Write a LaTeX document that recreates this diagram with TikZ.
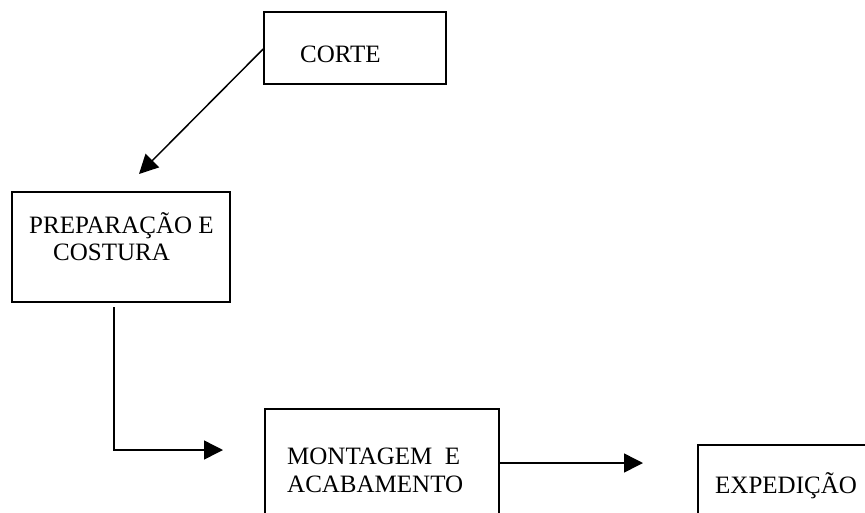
\documentclass[tikz,border=0pt]{standalone}
\usepackage{fontspec}
\setmainfont{Liberation Serif}
\usetikzlibrary{arrows.meta}

\begin{document}
\begin{tikzpicture}[
    x=1pt, y=-1pt,
    box/.style={draw, black, line width=1.6pt, rectangle, inner sep=0pt},
    lbl/.style={anchor=base west, inner sep=0pt, font=\fontsize{25}{27}\selectfont},
    flow/.style={black, line width=1.5pt, -{Triangle[length=19pt, width=19pt]}}
]

% Page
\useasboundingbox (0,0) rectangle (865,512);
\clip (0,0) rectangle (865,512);

% ============================================================
% Boxes
% ============================================================
\node[box, minimum width=182pt, minimum height=72pt]  (corte) at (355,48) {};
\node[box, minimum width=218pt, minimum height=110pt] (prep)  at (121,247) {};
\node[box, minimum width=234pt, minimum height=109pt] (mont)  at (382,463.5) {};
\node[box, minimum width=200pt, minimum height=100pt] (exped) at (798,495) {};

% Texts
\node[lbl] (tcorte) at (300,62)  {CORTE};
\node[lbl] (tprepa) at (29,233)  {PREPARAÇÃO E};
\node[lbl] (tprepb) at (53,260)  {COSTURA};
\node[lbl] (tmonta) at (287,464) {MONTAGEM\ \ E};
\node[lbl] (tmontb) at (287,492) {ACABAMENTO};
\node[lbl] (texped) at (715,493) {EXPEDIÇÃO};

% ============================================================
% Connectors
% ============================================================
\coordinate (c1) at (139,174);
\coordinate (c2) at (114,307);
\coordinate (c3) at (223,450);
\coordinate (c4) at (643,463);

\draw[flow] (corte.west |- 0,49) -- (c1);
\draw[flow] (c2) |- (c3);
\draw[flow] (mont.east |- c4) -- (c4);

\end{tikzpicture}
\end{document}
